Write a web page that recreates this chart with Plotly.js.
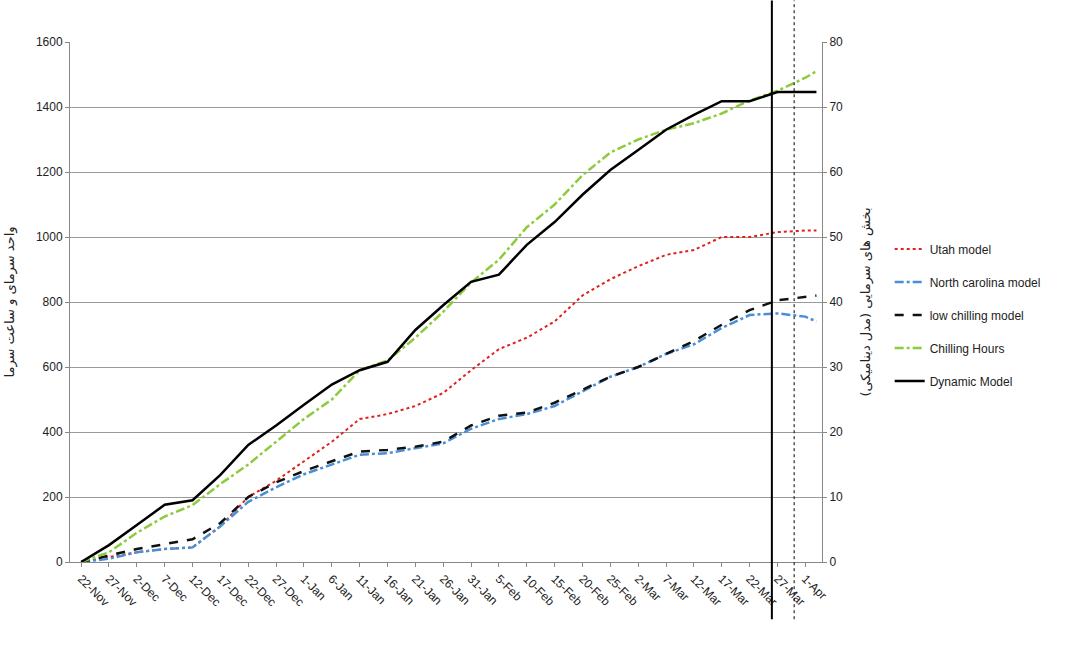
<!DOCTYPE html>
<html>
<head>
<meta charset="utf-8">
<script src="https://cdn.plot.ly/plotly-3.0.1.min.js"></script>
<style>body{margin:0;background:#fff}#chart{width:1076px;height:663px}</style>
</head>
<body>
<div id="chart"></div>
<script>
// sample dates (every 5 days, plus the last day)
const dates = ['2012-11-22','2012-11-27','2012-12-02','2012-12-07','2012-12-12','2012-12-17','2012-12-22',
  '2012-12-27','2013-01-01','2013-01-06','2013-01-11','2013-01-16','2013-01-21','2013-01-26','2013-01-31',
  '2013-02-05','2013-02-10','2013-02-15','2013-02-20','2013-02-25','2013-03-02','2013-03-07','2013-03-12',
  '2013-03-17','2013-03-22','2013-03-27','2013-04-01','2013-04-03']
const tickLabels = ['22-Nov','27-Nov','2-Dec','7-Dec','12-Dec','17-Dec','22-Dec','27-Dec','1-Jan','6-Jan',
  '11-Jan','16-Jan','21-Jan','26-Jan','31-Jan','5-Feb','10-Feb','15-Feb','20-Feb','25-Feb','2-Mar','7-Mar',
  '12-Mar','17-Mar','22-Mar','27-Mar','1-Apr']

const utah = [0,15,30,40,45,110,200,250,310,370,440,455,480,520,590,655,690,740,820,870,910,945,960,1000,1000,1015,1020,1020]
const northCarolina = [0,10,30,40,45,110,185,230,270,300,330,335,350,365,410,440,455,480,525,570,600,640,670,720,760,765,755,740]
const lowChilling = [0,20,40,55,70,120,200,245,280,310,340,345,355,370,420,450,460,490,530,570,600,640,680,730,775,805,815,820]
const chillingHours = [0,30,90,140,175,240,300,370,440,500,590,620,690,770,860,930,1030,1100,1190,1260,1300,1330,1350,1380,1420,1450,1490,1510]
// dynamic model in chill portions (right axis)
const dynamicModel = [0,2.6,5.7,8.8,9.5,13.4,18,21,24.2,27.3,29.5,30.8,35.7,39.5,43.1,44.2,48.8,52.3,56.5,60.3,63.4,66.5,68.8,70.9,70.9,72.3,72.3,72.3]

const markerDates = ['2013-03-26','2013-03-30']

const traces = [
  {name:'Utah model', legendgroup:'a', x:dates, y:utah, mode:'lines', line:{color:'#e0201b', width:2, dash:'dot'}},
  {name:'North carolina model', legendgroup:'b', x:dates, y:northCarolina, mode:'lines', line:{color:'#4a8fd6', width:2.5, dash:'dashdot'}},
  {name:'low chilling model', legendgroup:'c', x:dates, y:lowChilling, mode:'lines', line:{color:'#111', width:2.5, dash:'dash'}},
  {name:'Chilling Hours', legendgroup:'d', x:dates, y:chillingHours, mode:'lines', line:{color:'#8ccc3c', width:2.5, dash:'dashdot'}},
  {name:'Dynamic Model', legendgroup:'e', x:dates, y:dynamicModel, yaxis:'y2', mode:'lines', line:{color:'#000', width:2.5}}
]

const layout = {
  width:1076, height:663,
  margin:{l:70, r:254, t:42, b:101},
  paper_bgcolor:'#fff', plot_bgcolor:'#fff',
  font:{family:'Liberation Sans, Arial', size:12, color:'#222'},
  showlegend:true,
  legend:{x:1.09, y:0.63, xanchor:'left', yanchor:'top', font:{size:12}, tracegroupgap:14, bgcolor:'rgba(0,0,0,0)'},
  xaxis:{type:'date', range:['2012-11-20','2013-04-04'], tickvals:dates.slice(0,27), ticktext:tickLabels,
    tickangle:45, showgrid:false, showline:true, linecolor:'#888', ticks:'outside', ticklen:4, tickcolor:'#888'},
  yaxis:{range:[0,1600], dtick:200, showgrid:true, gridcolor:'#9a9a9a', zeroline:false,
    showline:true, linecolor:'#888', ticks:'outside', ticklen:4, tickcolor:'#888',
    title:{text:'واحد سرمای و ساعت سرما', font:{size:13, family:'DejaVu Sans'}, standoff:18}},
  yaxis2:{range:[0,80], dtick:10, overlaying:'y', side:'right', showgrid:false, zeroline:false,
    showline:true, linecolor:'#888', ticks:'outside', ticklen:4, tickcolor:'#888',
    title:{text:'بخش های سرمایی (مدل دینامیکی)', font:{size:13, family:'DejaVu Sans'}, standoff:18}},
  shapes:[
    {type:'line', xref:'x', yref:'paper', x0:markerDates[0], x1:markerDates[0], y0:-0.11, y1:1.08, line:{color:'#000', width:2}},
    {type:'line', xref:'x', yref:'paper', x0:markerDates[1], x1:markerDates[1], y0:-0.11, y1:1.08, line:{color:'#000', width:1, dash:'dot'}}
  ]
}

Plotly.newPlot('chart', traces, layout, {displayModeBar:false})
</script>
</body>
</html>
